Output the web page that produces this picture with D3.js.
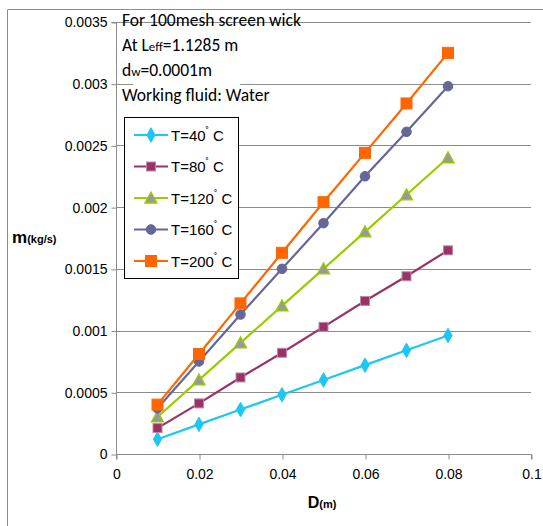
<!DOCTYPE html>
<html>
<head>
<meta charset="utf-8">
<script src="https://cdn.jsdelivr.net/npm/d3@7"></script>
<style>
  html, body { margin: 0; padding: 0; background: #fff; }
  svg { display: block; font-family: "Liberation Sans", Arial, sans-serif; }
</style>
</head>
<body>
<svg id="chart" width="543" height="526"></svg>
<script>
// Mass flow rate vs. diameter for several working temperatures
const diameters = [0.01, 0.02, 0.03, 0.04, 0.05, 0.06, 0.07, 0.08];
const seriesNames = ["T=40", "T=80", "T=120", "T=160", "T=200"];
const flowT40  = [0.00012, 0.00024, 0.00036, 0.00048, 0.00060, 0.00072, 0.00084, 0.00096];
const flowT80  = [0.00021, 0.00041, 0.00062, 0.00082, 0.00103, 0.00124, 0.00144, 0.00165];
const flowT120 = [0.00030, 0.00060, 0.00090, 0.00120, 0.00150, 0.00180, 0.00210, 0.00240];
const flowT160 = [0.00037, 0.00075, 0.00113, 0.00150, 0.00187, 0.00225, 0.00261, 0.00298];
const flowT200 = [0.00040, 0.00081, 0.00122, 0.00163, 0.00204, 0.00244, 0.00284, 0.00325];
const xTicks = [0, 0.02, 0.04, 0.06, 0.08, 0.1];
const yTicks = [0, 0.0005, 0.001, 0.0015, 0.002, 0.0025, 0.003, 0.0035];
const noteLines = ["For 100mesh screen wick", "At Leff=1.1285 m", "dw=0.0001m", "Working fluid: Water"];

const styles = [
  { color: "#1cc8f2", marker: "diamond",  fill: "#1cc8f2", stroke: "#1cc8f2" },
  { color: "#993366", marker: "square",   fill: "#993366", stroke: "#c08aa6", size: 9 },
  { color: "#99cc00", marker: "triangle", fill: "#999999", stroke: "#99cc00" },
  { color: "#666699", marker: "circle",   fill: "#666699", stroke: "#666699" },
  { color: "#ff6600", marker: "square",   fill: "#ff6600", stroke: "#ff6600", size: 11 }
];
const seriesValues = [flowT40, flowT80, flowT120, flowT160, flowT200];

const svg = d3.select("#chart");

const x = d3.scaleLinear().domain([0, 0.1]).range([116, 531]);
const y = d3.scaleLinear().domain([0, 0.0035]).range([454, 22]);

// outer frame
svg.append("path")
  .attr("d", "M7.5,526 V9.5 H543")
  .attr("fill", "none").attr("stroke", "#8c8c8c").attr("stroke-width", 1);

// horizontal gridlines
svg.append("g").selectAll("line").data(yTicks.filter(d => d > 0)).join("line")
  .attr("x1", x(0)).attr("x2", x(0.1))
  .attr("y1", d => Math.round(y(d)) + 0.5).attr("y2", d => Math.round(y(d)) + 0.5)
  .attr("stroke", "#8c8c8c").attr("stroke-width", 1);

// y axis
const yAxis = d3.axisLeft(y).tickValues(yTicks).tickSize(5).tickPadding(4)
  .tickFormat(d => d === 0 ? "0" : String(+d.toFixed(4)));
const gy = svg.append("g").attr("transform", `translate(${x(0) + 0.5},0.5)`).call(yAxis);
gy.select(".domain").attr("stroke", "#8c8c8c").attr("d", `M-5,${y(0.0035)}H0V${y(0)}`);
gy.selectAll(".tick line").attr("stroke", "#8c8c8c");
gy.selectAll(".tick text").attr("font-size", 14).attr("fill", "#000")
  .attr("font-family", "Liberation Sans, Arial, sans-serif");

// x axis
const xAxis = d3.axisBottom(x).tickValues(xTicks).tickSize(5).tickPadding(10)
  .tickFormat(d => d === 0 ? "0" : String(+d.toFixed(2)));
const gx = svg.append("g").attr("transform", `translate(0.5,${Math.round(y(0)) + 0.5})`).call(xAxis);
gx.select(".domain").attr("stroke", "#8c8c8c").attr("d", `M${x(0)},5V0H${x(0.1)}V5`);
gx.selectAll(".tick line").attr("stroke", "#8c8c8c");
gx.selectAll(".tick text").attr("font-size", 14).attr("fill", "#000")
  .attr("font-family", "Liberation Sans, Arial, sans-serif");

// axis titles
const xt = svg.append("text").attr("x", 322).attr("y", 508).attr("text-anchor", "middle")
  .attr("font-weight", "bold").attr("fill", "#000");
xt.append("tspan").attr("font-size", 16).text("D");
xt.append("tspan").attr("font-size", 11).text("(m)");

const yt = svg.append("text").attr("x", 12).attr("y", 243)
  .attr("font-weight", "bold").attr("fill", "#000");
yt.append("tspan").attr("font-size", 17).text("m");
yt.append("tspan").attr("font-size", 11).text("(kg/s)");

// marker drawing helper
function drawMarker(sel, st, cx, cy) {
  if (st.marker === "diamond") {
    sel.append("path").attr("d", d3.symbol(d3.symbolDiamond, 60)())
      .attr("transform", `translate(${cx},${cy})`)
      .attr("fill", st.fill).attr("stroke", st.stroke).attr("stroke-width", 1);
  } else if (st.marker === "square") {
    const s = st.size;
    sel.append("rect").attr("x", cx - s / 2).attr("y", cy - s / 2).attr("width", s).attr("height", s)
      .attr("fill", st.fill).attr("stroke", st.stroke).attr("stroke-width", 1);
  } else if (st.marker === "triangle") {
    sel.append("path").attr("d", "M0,-6L6,5L-6,5Z")
      .attr("transform", `translate(${cx},${cy})`)
      .attr("fill", st.fill).attr("stroke", st.stroke).attr("stroke-width", 1.3);
  } else {
    sel.append("circle").attr("cx", cx).attr("cy", cy).attr("r", 4.8)
      .attr("fill", st.fill).attr("stroke", st.stroke);
  }
}

// series lines and markers
const line = d3.line().x((d, i) => x(diameters[i])).y(d => y(d));
seriesValues.forEach((vals, k) => {
  const st = styles[k];
  const g = svg.append("g");
  g.append("path").datum(vals).attr("d", line)
    .attr("fill", "none").attr("stroke", st.color).attr("stroke-width", 2.2);
  vals.forEach((v, i) => drawMarker(g, st, x(diameters[i]), y(v)));
});

// annotation block
svg.append("rect").attr("x", 133).attr("y", 30).attr("width", 107).attr("height", 70).attr("fill", "#fff");
const note = svg.append("g").attr("font-family", "Carlito, 'Liberation Sans', Arial, sans-serif")
  .attr("font-size", 17.5).attr("fill", "#000");
const noteY = [26, 51, 76, 101];
note.append("text").attr("x", 122).attr("y", noteY[0]).text(noteLines[0]);
const l2 = note.append("text").attr("x", 122).attr("y", noteY[1]);
l2.append("tspan").text("At L");
l2.append("tspan").attr("font-size", 13).text("eff");
l2.append("tspan").text("=1.1285 m");
const l3 = note.append("text").attr("x", 122).attr("y", noteY[2]);
l3.append("tspan").text("d");
l3.append("tspan").attr("font-size", 13).text("w");
l3.append("tspan").text("=0.0001m");
note.append("text").attr("x", 122).attr("y", noteY[3]).text(noteLines[3]);

// legend
const lg = svg.append("g");
lg.append("rect").attr("x", 124.5).attr("y", 117.5).attr("width", 114).attr("height", 161)
  .attr("fill", "#fff").attr("stroke", "#000").attr("stroke-width", 1);
seriesNames.forEach((name, k) => {
  const st = styles[k];
  const cy = 135 + k * 31.5;
  lg.append("line").attr("x1", 134).attr("x2", 168).attr("y1", cy).attr("y2", cy)
    .attr("stroke", st.color).attr("stroke-width", 2.2);
  drawMarker(lg, st, 151, cy);
  const t = lg.append("text").attr("x", 171).attr("y", cy + 5.5).attr("font-size", 15).attr("fill", "#000");
  t.append("tspan").text(name);
  t.append("tspan").attr("font-size", 10).attr("dy", -6).text("˚");
  t.append("tspan").attr("dy", 6).text(" C");
});
</script>
</body>
</html>
